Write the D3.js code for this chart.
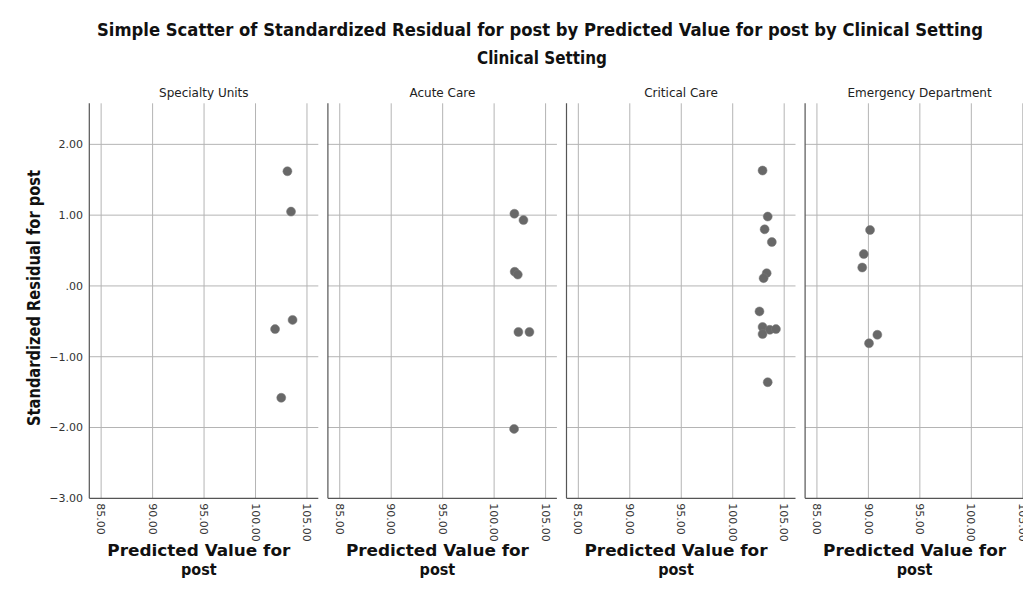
<!DOCTYPE html>
<html>
<head>
<meta charset="utf-8">
<script src="https://cdn.jsdelivr.net/npm/d3@7"></script>
<style>
  body { margin: 0; background: #fff; }
  svg { display: block; }
</style>
</head>
<body>
<svg id="chart" width="1023" height="608"></svg>
<script>
// panels and ticks
const categories = ["Specialty Units", "Acute Care", "Critical Care", "Emergency Department"];
const xTicks = [85, 90, 95, 100, 105];
const yTicks = [2, 1, 0, -1, -2, -3];

// predicted value / standardized residual per clinical setting
const specialtyPred = [103.1, 103.45, 101.9, 103.6, 102.5];
const specialtyResid = [1.62, 1.05, -0.61, -0.48, -1.58];
const acutePred = [101.97, 102.85, 102.0, 102.3, 102.36, 103.43, 101.94];
const acuteResid = [1.02, 0.93, 0.20, 0.16, -0.65, -0.65, -2.02];
const criticalPred = [102.9, 103.4, 103.1, 103.8, 103.3, 103.0, 102.6, 102.9, 103.6, 104.2, 102.9, 103.4];
const criticalResid = [1.63, 0.98, 0.80, 0.62, 0.18, 0.11, -0.36, -0.58, -0.62, -0.61, -0.68, -1.36];
const emergencyPred = [90.16, 89.55, 89.4, 90.87, 90.06];
const emergencyResid = [0.79, 0.45, 0.26, -0.69, -0.81];

const panelData = [
  d3.zip(specialtyPred, specialtyResid),
  d3.zip(acutePred, acuteResid),
  d3.zip(criticalPred, criticalResid),
  d3.zip(emergencyPred, emergencyResid)
];

const svg = d3.select("#chart");
const boldFont = "'Liberation Sans Narrow', 'DejaVu Sans Condensed', 'Open Sans', sans-serif";
const lightFont = "'DejaVu Sans', sans-serif";

const panelW = 229;
const panelStep = 238.6;
const left0 = 89.3;

// shared scales
const x = d3.scaleLinear().domain([83.85, 106.1]).range([0, panelW]);
const y = d3.scaleLinear().domain([-3, 2.58]).range([498.3, 103.3]);

// titles
svg.append("text")
  .attr("x", 540).attr("y", 36)
  .attr("text-anchor", "middle")
  .attr("textLength", 886).attr("lengthAdjust", "spacingAndGlyphs")
  .style("font", `bold 17px ${boldFont}`)
  .style("fill", "#111")
  .text("Simple Scatter of Standardized Residual for post by Predicted Value for post by Clinical Setting");

svg.append("text")
  .attr("x", 542).attr("y", 64)
  .attr("text-anchor", "middle")
  .attr("textLength", 130).attr("lengthAdjust", "spacingAndGlyphs")
  .style("font", `bold 17px ${boldFont}`)
  .style("fill", "#111")
  .text("Clinical Setting");

// y axis title
svg.append("text")
  .attr("transform", "translate(40,298) rotate(-90)")
  .attr("text-anchor", "middle")
  .attr("textLength", 256).attr("lengthAdjust", "spacingAndGlyphs")
  .style("font", `bold 17px ${boldFont}`)
  .style("fill", "#111")
  .text("Standardized Residual for post");

// y tick labels
svg.append("g").selectAll("text")
  .data(yTicks)
  .enter().append("text")
    .attr("x", 83)
    .attr("y", d => y(d))
    .attr("dy", "0.35em")
    .attr("text-anchor", "end")
    .style("font", `11px ${lightFont}`)
    .style("fill", "#333")
    .text(d => d3.format(".2f")(d).replace(/^(-?)0\./, "$1."));

categories.forEach((cat, i) => {
  const g = svg.append("g")
    .attr("class", `panel type${i}`)
    .attr("transform", `translate(${left0 + i * panelStep},0)`);

  // panel label
  g.append("text")
    .attr("x", panelW / 2).attr("y", 97)
    .attr("text-anchor", "middle")
    .style("font", `12px ${lightFont}`)
    .style("fill", "#222")
    .text(cat);

  // gridlines
  g.selectAll(".hgrid")
    .data(yTicks.filter(d => d !== -3))
    .enter().append("line")
      .attr("class", "hgrid")
      .attr("x1", 0).attr("x2", panelW)
      .attr("y1", d => y(d)).attr("y2", d => y(d))
      .style("stroke", "#b4b4b4")
      .style("stroke-width", 1);

  g.selectAll(".vgrid")
    .data(xTicks)
    .enter().append("line")
      .attr("class", "vgrid")
      .attr("x1", d => x(d)).attr("x2", d => x(d))
      .attr("y1", y(2.58)).attr("y2", y(-3))
      .style("stroke", "#b4b4b4")
      .style("stroke-width", 1);

  // axis frame (left + bottom)
  g.append("line")
    .attr("x1", 0).attr("x2", 0)
    .attr("y1", y(2.58)).attr("y2", y(-3))
    .style("stroke", "#555").style("stroke-width", 1.2);
  g.append("line")
    .attr("x1", 0).attr("x2", panelW)
    .attr("y1", y(-3)).attr("y2", y(-3))
    .style("stroke", "#555").style("stroke-width", 1.2);

  // x tick labels, rotated
  g.selectAll(".xtick")
    .data(xTicks)
    .enter().append("text")
      .attr("class", "xtick")
      .attr("transform", d => `translate(${x(d)},${y(-3) + 5}) rotate(90)`)
      .attr("dy", "0.35em")
      .style("font", `11px ${lightFont}`)
      .style("fill", "#333")
      .text(d => d3.format(".2f")(d));

  // x axis title
  g.append("text")
    .attr("x", panelW / 2 - 5).attr("y", 556)
    .attr("text-anchor", "middle")
    .attr("textLength", 183).attr("lengthAdjust", "spacingAndGlyphs")
    .style("font", `bold 16px ${boldFont}`)
    .style("fill", "#111")
    .text("Predicted Value for");
  g.append("text")
    .attr("x", panelW / 2 - 5).attr("y", 575)
    .attr("text-anchor", "middle")
    .style("font", `bold 16px ${boldFont}`)
    .style("fill", "#111")
    .text("post");

  // points
  g.selectAll("circle")
    .data(panelData[i])
    .enter().append("circle")
      .attr("cx", d => x(d[0]))
      .attr("cy", d => y(d[1]))
      .attr("r", 4.5)
      .style("fill", "#686868")
      .style("stroke", "#7a7a7a")
      .style("stroke-width", 0.5);
});
</script>
</body>
</html>
